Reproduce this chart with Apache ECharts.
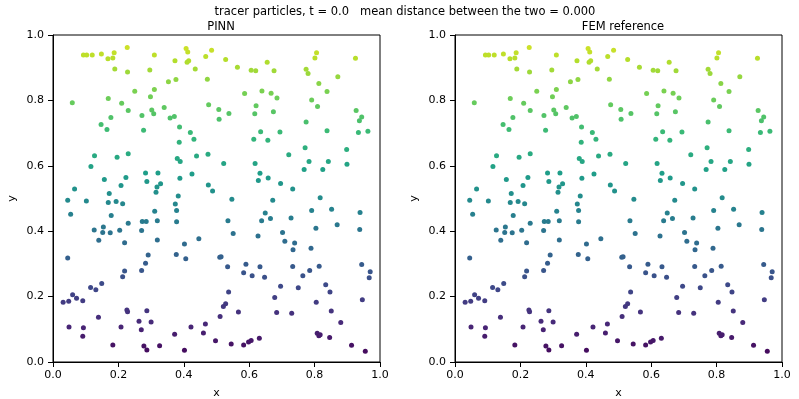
<!DOCTYPE html>
<html>
<head>
<meta charset="utf-8">
<script src="https://cdn.jsdelivr.net/npm/echarts@6/dist/echarts.min.js"></script>
<style>
  html, body { margin: 0; padding: 0; background: #fff; }
  #chart { width: 799px; height: 399px; }
</style>
</head>
<body>
<div id="chart"></div>
<script>
// particle positions at t = 0 (both panels identical)
const px = [
  0.227, 0.093, 0.103, 0.120, 0.148, 0.168, 0.183, 0.187, 0.310, 0.407, 0.412, 0.373, 0.415, 0.410, 0.467, 0.485,
  0.189, 0.228, 0.296, 0.435, 0.353, 0.376, 0.472, 0.250, 0.310, 0.298, 0.059, 0.169, 0.210, 0.476, 0.230, 0.302,
  0.308, 0.340, 0.272, 0.177, 0.358, 0.371, 0.507, 0.508, 0.147, 0.165, 0.277, 0.387, 0.420, 0.431, 0.386,
  0.528, 0.564, 0.606, 0.620, 0.655, 0.676, 0.806, 0.801, 0.774, 0.780, 0.925, 0.813, 0.871, 0.838, 0.586, 0.639,
  0.667, 0.685, 0.791, 0.809, 0.538, 0.621, 0.617, 0.674, 0.927, 0.944, 0.937, 0.774, 0.838, 0.934, 0.963, 0.635,
  0.694, 0.614, 0.657, 0.771, 0.898,
  0.127, 0.196, 0.230, 0.116, 0.380, 0.389, 0.439, 0.474, 0.283, 0.321, 0.425, 0.157, 0.223, 0.287, 0.208, 0.329,
  0.318, 0.388, 0.475, 0.488, 0.066, 0.172, 0.315, 0.383, 0.045, 0.102, 0.169, 0.193, 0.213, 0.374, 0.311, 0.378,
  0.054, 0.178, 0.273, 0.285, 0.319, 0.378, 0.230, 0.154, 0.126, 0.152, 0.175, 0.204, 0.271, 0.140, 0.219, 0.319,
  0.446, 0.402, 0.291, 0.377, 0.406, 0.045, 0.510,
  0.721, 0.522, 0.618, 0.783, 0.842, 0.899, 0.633, 0.768, 0.825, 0.628, 0.658, 0.696, 0.733, 0.547, 0.672, 0.817,
  0.649, 0.791, 0.852, 0.939, 0.535, 0.638, 0.665, 0.728, 0.869, 0.702, 0.804, 0.938, 0.551, 0.627, 0.709, 0.739,
  0.734, 0.789, 0.514,
  0.283, 0.219, 0.271, 0.213, 0.149, 0.115, 0.131, 0.060, 0.072, 0.031, 0.048, 0.091, 0.226, 0.228, 0.287, 0.139,
  0.263, 0.300, 0.049, 0.093, 0.208, 0.270, 0.091, 0.183, 0.278, 0.287, 0.326, 0.372, 0.402, 0.422, 0.460, 0.466,
  0.497, 0.511,
  0.534, 0.590, 0.633, 0.583, 0.609, 0.647, 0.733, 0.764, 0.785, 0.814, 0.944, 0.970, 0.967, 0.696, 0.750, 0.834,
  0.847, 0.537, 0.678, 0.805, 0.946, 0.528, 0.521, 0.567, 0.684, 0.730, 0.851, 0.880, 0.808, 0.813, 0.817, 0.846,
  0.631, 0.606, 0.598, 0.583, 0.545, 0.913, 0.955
];
const py = [
  0.962, 0.939, 0.939, 0.939, 0.942, 0.927, 0.930, 0.946, 0.939, 0.959, 0.948, 0.921, 0.921, 0.917, 0.934, 0.953,
  0.896, 0.887, 0.893, 0.896, 0.857, 0.864, 0.865, 0.828, 0.833, 0.811, 0.793, 0.806, 0.791, 0.787, 0.769, 0.771,
  0.759, 0.778, 0.754, 0.748, 0.746, 0.751, 0.772, 0.742, 0.726, 0.711, 0.709, 0.719, 0.702, 0.681, 0.672,
  0.925, 0.901, 0.892, 0.891, 0.917, 0.891, 0.946, 0.930, 0.895, 0.882, 0.929, 0.852, 0.872, 0.827, 0.821, 0.829,
  0.822, 0.807, 0.801, 0.781, 0.760, 0.784, 0.759, 0.765, 0.769, 0.749, 0.738, 0.734, 0.707, 0.702, 0.706, 0.704,
  0.703, 0.681, 0.678, 0.655, 0.650,
  0.631, 0.626, 0.637, 0.598, 0.622, 0.613, 0.630, 0.635, 0.578, 0.578, 0.575, 0.558, 0.564, 0.552, 0.540, 0.545,
  0.535, 0.562, 0.541, 0.523, 0.529, 0.515, 0.519, 0.508, 0.495, 0.492, 0.488, 0.491, 0.484, 0.483, 0.461, 0.463,
  0.452, 0.448, 0.430, 0.430, 0.432, 0.429, 0.424, 0.413, 0.404, 0.396, 0.395, 0.403, 0.402, 0.372, 0.365, 0.373,
  0.377, 0.361, 0.327, 0.329, 0.316, 0.318, 0.320,
  0.634, 0.607, 0.607, 0.613, 0.613, 0.605, 0.577, 0.589, 0.589, 0.555, 0.563, 0.546, 0.529, 0.498, 0.495, 0.502,
  0.456, 0.463, 0.467, 0.457, 0.432, 0.432, 0.439, 0.440, 0.420, 0.396, 0.409, 0.405, 0.393, 0.385, 0.369, 0.364,
  0.343, 0.348, 0.322,
  0.302, 0.278, 0.280, 0.261, 0.240, 0.228, 0.221, 0.206, 0.195, 0.183, 0.186, 0.187, 0.159, 0.154, 0.157, 0.137,
  0.125, 0.122, 0.107, 0.105, 0.107, 0.099, 0.079, 0.052, 0.049, 0.037, 0.050, 0.085, 0.036, 0.107, 0.089, 0.116,
  0.065, 0.139,
  0.291, 0.299, 0.291, 0.273, 0.264, 0.259, 0.292, 0.264, 0.280, 0.293, 0.298, 0.276, 0.258, 0.232, 0.227, 0.236,
  0.214, 0.214, 0.197, 0.183, 0.190, 0.178, 0.170, 0.153, 0.151, 0.149, 0.156, 0.121, 0.088, 0.080, 0.083, 0.075,
  0.073, 0.066, 0.061, 0.052, 0.055, 0.051, 0.033
];
const ticks = [0.0, 0.2, 0.4, 0.6, 0.8, 1.0];
const titleText = "tracer particles, t = 0.0   mean distance between the two = 0.000";
const panelTitles = ["PINN", "FEM reference"];

const viridis = ["#440154", "#482878", "#3e4989", "#31688e", "#26828e", "#1f9e89", "#35b779", "#6ece58", "#b5de2b", "#fde725"];
const FONT = "DejaVu Sans";

const points = px.map((x, i) => [x, py[i]]);

const grids = [
  { left: 53, top: 35, width: 327, height: 327 },
  { left: 455, top: 35, width: 327, height: 327 }
];

function axisCommon(gi, name, gap, labelMargin) {
  return {
    gridIndex: gi, type: "value", min: ticks[0], max: ticks[ticks.length - 1], interval: 0.2,
    name: name, nameLocation: "middle", nameGap: gap,
    nameTextStyle: { color: "#000", fontSize: 11, fontFamily: FONT },
    axisLine: { show: true, onZero: false, lineStyle: { color: "#000", width: 1 } },
    axisTick: { show: true, inside: false, length: 5, lineStyle: { color: "#000" } },
    axisLabel: { color: "#000", fontSize: 11, fontFamily: FONT, margin: labelMargin,
      formatter: (v) => v.toFixed(1) },
    splitLine: { show: false }
  };
}

const chart = echarts.init(document.getElementById("chart"), null, { renderer: "canvas" });
chart.setOption({
  animation: false,
  backgroundColor: "#fff",
  title: [
    { text: titleText, left: 400, top: 1, textAlign: "center",
      textStyle: { fontSize: 11.5, fontWeight: "normal", color: "#000", fontFamily: FONT } },
    { text: panelTitles[0], left: 216, top: 16, textAlign: "center",
      textStyle: { fontSize: 11.5, fontWeight: "normal", color: "#000", fontFamily: FONT } },
    { text: panelTitles[1], left: 618, top: 16, textAlign: "center",
      textStyle: { fontSize: 11.5, fontWeight: "normal", color: "#000", fontFamily: FONT } }
  ],
  grid: grids.map((g) => Object.assign({
    show: true, borderColor: "#000", borderWidth: 1, backgroundColor: "#fff",
    containLabel: false, outerBoundsMode: "none"
  }, g)),
  xAxis: [axisCommon(0, "x", 26, 8), axisCommon(1, "x", 26, 8)],
  yAxis: [axisCommon(0, "y", 35, 9), axisCommon(1, "y", 35, 9)],
  visualMap: {
    show: false, type: "continuous", dimension: 1, min: 0, max: 1.04,
    seriesIndex: [0, 1], inRange: { color: viridis }
  },
  series: [0, 1].map((gi) => ({
    type: "scatter",
    xAxisIndex: gi, yAxisIndex: gi,
    data: points,
    symbolSize: 5,
    itemStyle: { opacity: 1 }
  }))
});
</script>
</body>
</html>
